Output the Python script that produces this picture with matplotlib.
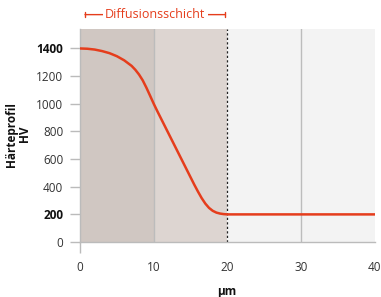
import matplotlib
matplotlib.use("Agg")
import matplotlib.pyplot as plt

plt.rcParams['font.family'] = ['Open Sans', 'DejaVu Sans']

# Härteprofil (HV) über der Tiefe (µm)
depth = [0, 1, 2, 3, 4, 5, 6, 7, 7.5, 8, 8.5, 9, 9.5, 10, 10.5, 11, 12, 13, 14, 15,
         15.5, 16, 16.5, 17, 17.5, 18, 18.5, 19, 19.5, 20, 40]
hardness = [1400, 1398, 1392, 1381, 1366, 1344, 1314, 1274, 1246, 1212, 1170, 1117,
            1059, 1000, 945, 892, 786, 680, 574, 468, 415, 365, 318, 278, 247, 226,
            213, 206, 202, 200, 200]

bands = [(0, 10, '#d0c7c2'), (10, 20, '#ddd5d1'), (20, 40, '#f3f3f3')]
yticks = [0, 200, 400, 600, 800, 1000, 1200, 1400]
bold_ticks = [200, 1400]
xticks = [0, 10, 20, 30, 40]
red = '#e53d1c'

fig = plt.figure(figsize=(3.81, 2.97), dpi=100)
ax = fig.add_axes([0.21, 0.185, 0.774, 0.717])

for x0, x1, c in bands:
    ax.axvspan(x0, x1, color=c, lw=0, zorder=0)
ax.axvline(10, color='#bcbcbc', lw=1, zorder=1)
ax.axvline(30, color='#bcbcbc', lw=1, zorder=1)
ax.axvline(20, color='#222222', lw=0.9, ls=(0, (1.8, 1.8)), zorder=2)

ax.plot(depth, hardness, color=red, lw=1.8, zorder=3, solid_joinstyle='round')

ax.set_xlim(0, 40)
ax.set_ylim(0, 1540)
ax.set_xticks(xticks)
ax.set_yticks(yticks)
ax.tick_params(axis='both', labelsize=8.5, colors='#bbbbbb', labelcolor='#333333')
ax.tick_params(axis='y', length=7, width=1, pad=5)
ax.tick_params(axis='x', length=8, width=1, pad=6)
for t, v in zip(ax.yaxis.get_major_ticks(), yticks):
    if v in bold_ticks:
        t.tick1line.set_color('#111111')
        t.label1.set_fontweight('bold')
        t.label1.set_color('#111111')
for i, t in enumerate(ax.xaxis.get_major_ticks()):
    if i > 0:
        t.tick1line.set_visible(False)

for s in ['top', 'right']:
    ax.spines[s].set_visible(False)
for s in ['left', 'bottom']:
    ax.spines[s].set_color('#bbbbbb')
    ax.spines[s].set_linewidth(1)

fig.text(0.047, 0.548, 'Härteprofil\nHV', rotation=90, ha='center', va='center',
         fontsize=8.5, fontweight='bold', color='#111111', linespacing=1.0,
         multialignment='center')
fig.text(0.596, 0.02, 'µm', ha='center', va='center',
         fontsize=8.5, fontweight='bold', color='#111111')

ax.annotate('', xy=(0.3, 1.068), xytext=(20.1, 1.068),
            xycoords=('data', 'axes fraction'),
            arrowprops=dict(arrowstyle='|-|,widthA=0.2,widthB=0.2', color=red, lw=1),
            annotation_clip=False)
ax.text(10.2, 1.068, 'Diffusionsschicht', transform=ax.get_xaxis_transform(),
        ha='center', va='center', fontsize=9, color=red,
        bbox=dict(facecolor='white', edgecolor='none', pad=1.5))

fig.savefig('out.png', dpi=100)
